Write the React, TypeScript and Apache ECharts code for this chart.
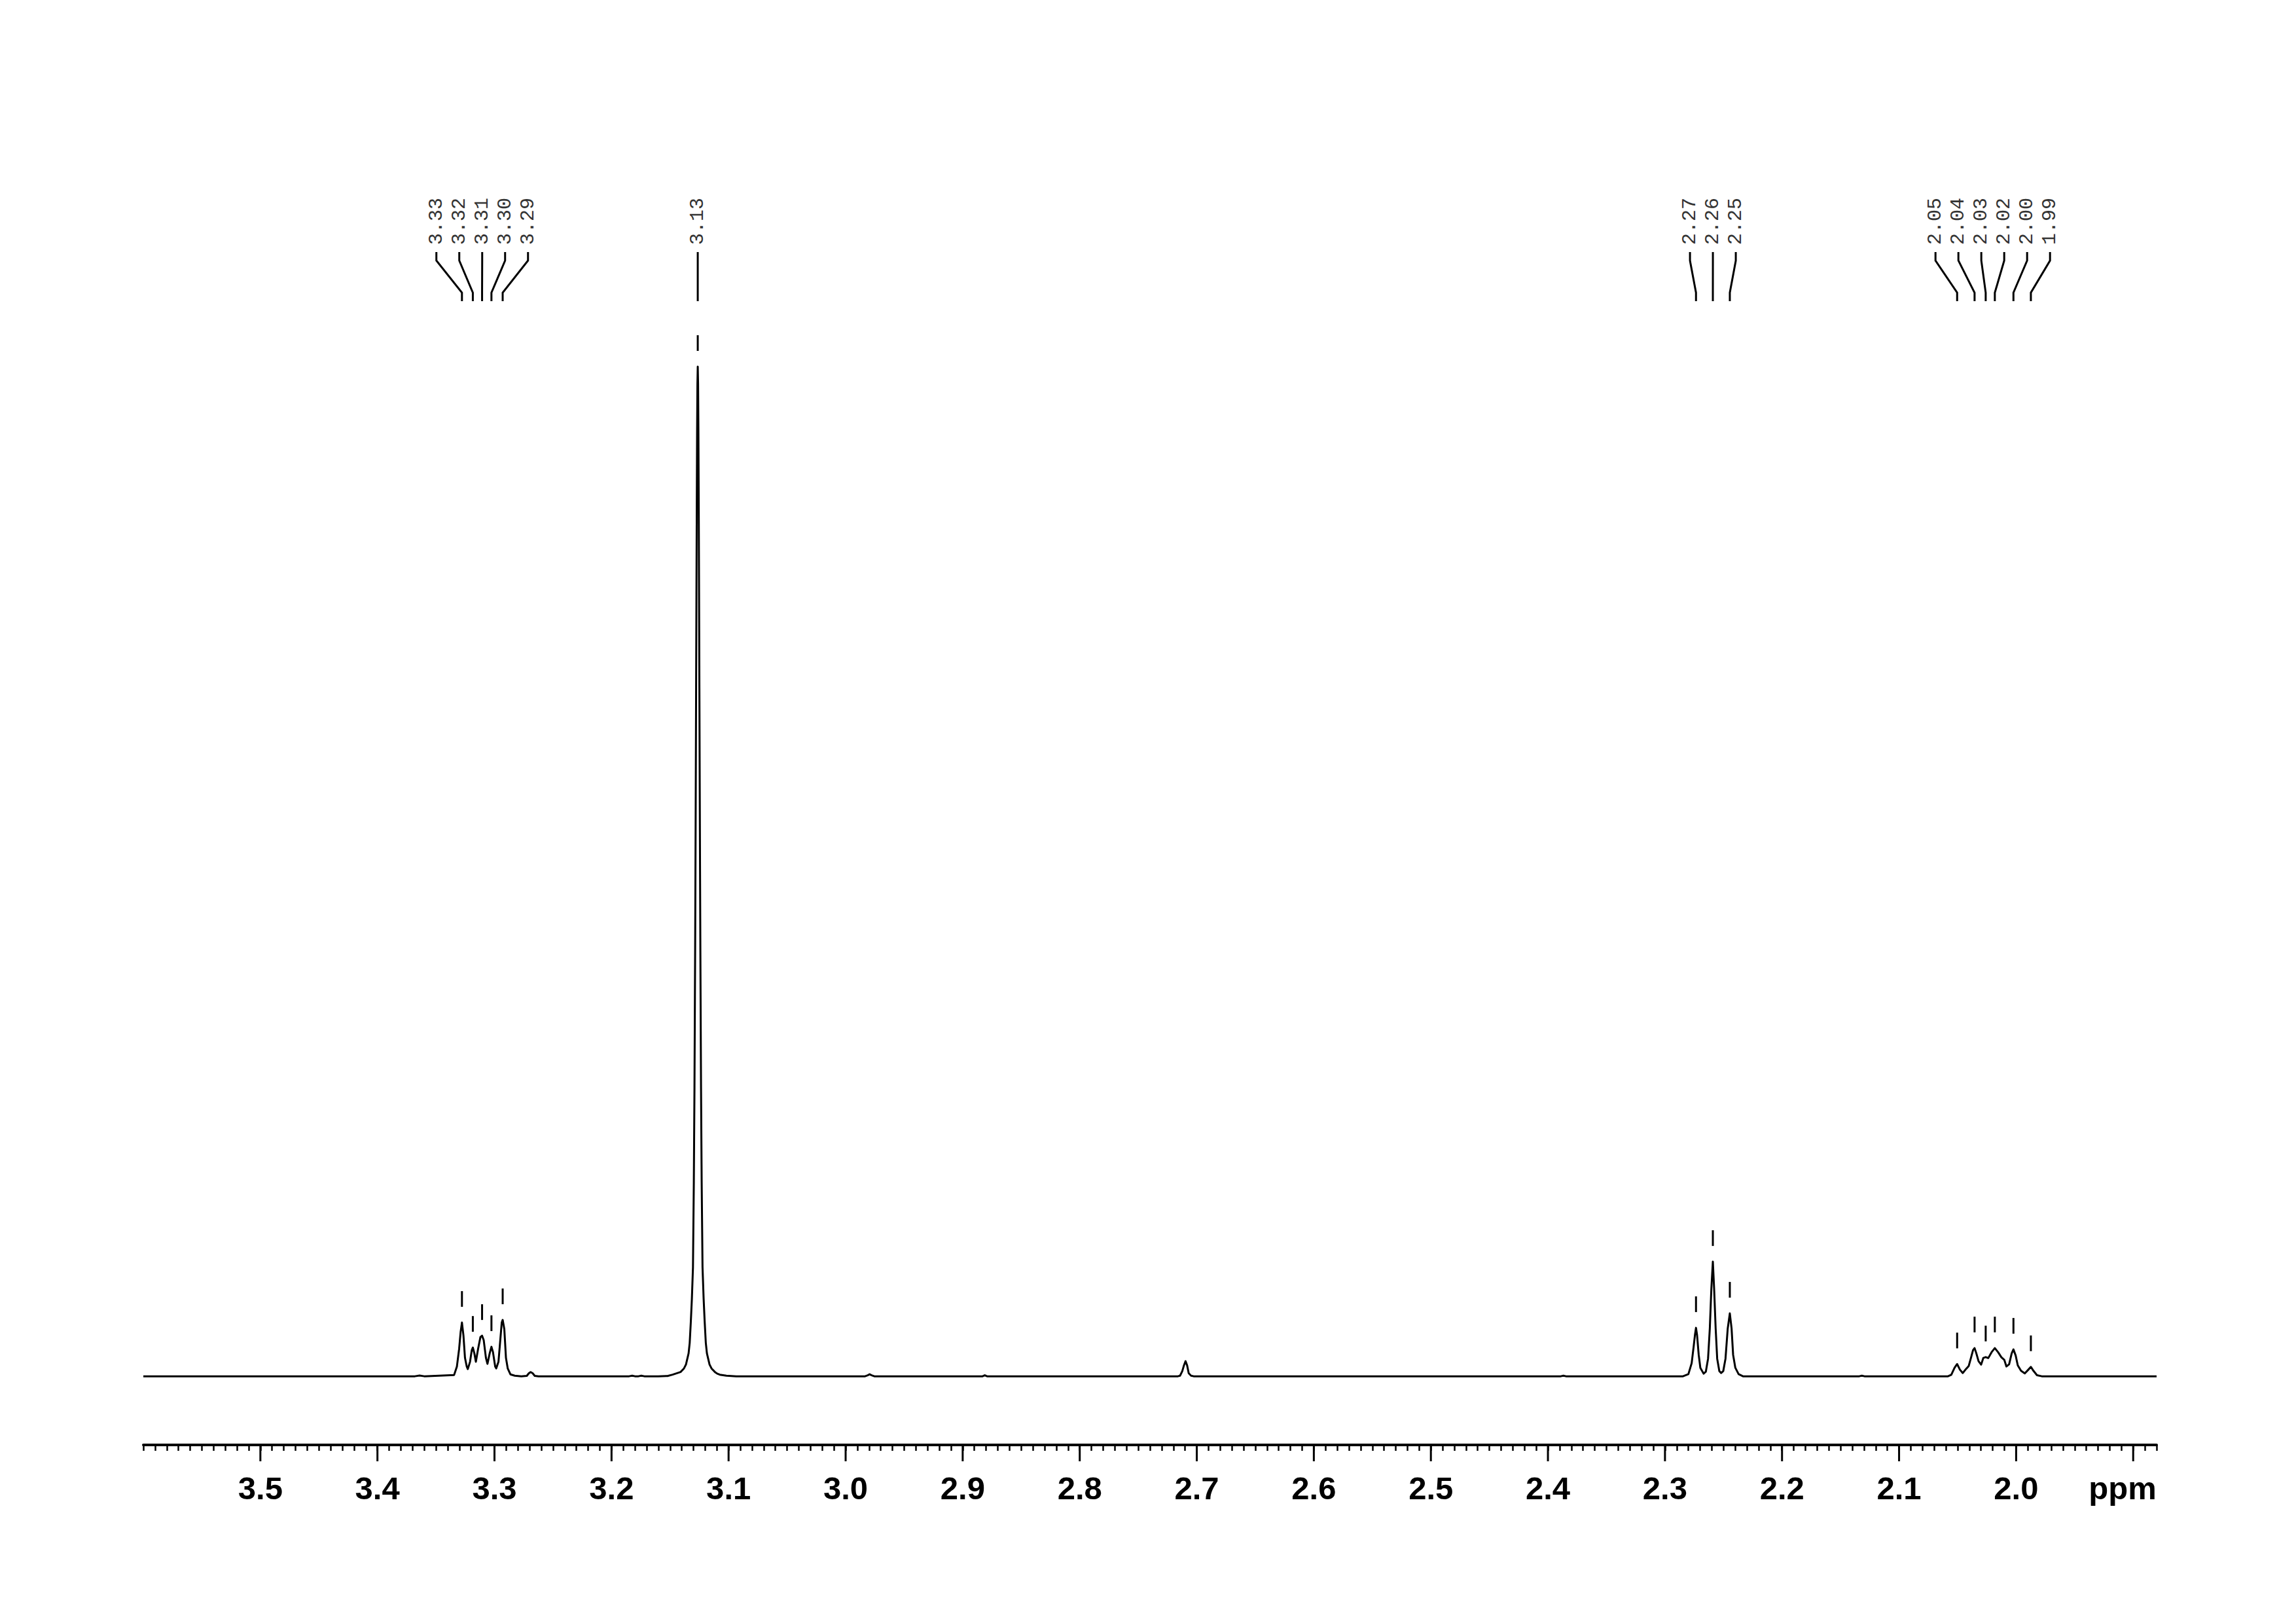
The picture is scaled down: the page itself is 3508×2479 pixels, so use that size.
import React, { useEffect, useRef } from 'react';
import * as echarts from 'echarts';

// ---- axis ----
const X_MIN = 1.88;
const X_MAX = 3.6;
const Y_MIN = -6.8;
const Y_MAX = 100;
const tickLabelValues = [3.5, 3.4, 3.3, 3.2, 3.1, 3.0, 2.9, 2.8, 2.7, 2.6, 2.5, 2.4, 2.3, 2.2, 2.1, 2.0];
const majorTickValues = [3.5, 3.4, 3.3, 3.2, 3.1, 3.0, 2.9, 2.8, 2.7, 2.6, 2.5, 2.4, 2.3, 2.2, 2.1, 2.0, 1.9];
const axisUnit = 'ppm';

// ---- spectrum trace (ppm, relative intensity %) ----
const baselineLeft: number[][] = [[3.6, 0], [3.368, 0], [3.364, 0.07], [3.36, 0]];
const multiplet333: number[][] = [
  [3.3345, 0.13], [3.3321, 0.97], [3.3302, 2.72], [3.3289, 4.41], [3.3278, 5.32], [3.3265, 4.02],
  [3.3252, 1.82], [3.3237, 0.97], [3.3228, 0.71], [3.3209, 1.43], [3.3194, 2.59], [3.3185, 2.85],
  [3.3172, 2.27], [3.3159, 1.43], [3.314, 2.72], [3.312, 3.89], [3.3106, 4.02], [3.3092, 3.57],
  [3.3073, 1.82], [3.306, 1.23], [3.3041, 2.27], [3.3026, 2.92], [3.3013, 2.4], [3.2994, 0.97],
  [3.2985, 0.78], [3.2966, 1.43], [3.2952, 3.37], [3.2938, 5.32], [3.293, 5.58], [3.2916, 4.67],
  [3.2902, 1.82], [3.2887, 0.78], [3.2864, 0.19], [3.2827, 0.06], [3.2771, 0],
];
const bump327: number[][] = [
  [3.2724, 0.04], [3.2706, 0.3], [3.2691, 0.42], [3.2674, 0.3], [3.2656, 0.04], [3.2624, 0],
  [3.185, 0], [3.1824, 0.06], [3.18, 0], [3.177, 0], [3.1746, 0.06], [3.172, 0],
];
const singlet313: number[][] = [
  [3.16, 0], [3.1522, 0.03], [3.1478, 0.16], [3.14104, 0.42], [3.13825, 0.75], [3.1364, 1.17],
  [3.13417, 2.27], [3.13322, 3.31], [3.13221, 5.51], [3.13137, 7.65], [3.13042, 10.8],
  [3.12969, 19.2], [3.12914, 28.6], [3.12858, 42.0], [3.1283, 50], [3.12802, 58.8],
  [3.12774, 68.2], [3.12746, 77.5], [3.12718, 86.2], [3.1269, 93.5], [3.12662, 98.3],
  [3.12634, 100],
  [3.12606, 98.3], [3.12578, 93.5], [3.1255, 86.2], [3.12522, 77.5], [3.12494, 68.2],
  [3.12466, 58.8], [3.12438, 50], [3.1241, 42.0], [3.12354, 28.6], [3.12299, 19.2],
  [3.12226, 10.8], [3.12131, 7.65], [3.12047, 5.51], [3.11946, 3.31], [3.11851, 2.27],
  [3.11628, 1.17], [3.11443, 0.75], [3.11164, 0.42], [3.1097, 0.26], [3.1075, 0.16],
  [3.1019, 0.06], [3.0935, 0],
];
const smallMiddle: number[][] = [
  [2.9834, 0], [2.9811, 0.1], [2.9795, 0.2], [2.9778, 0.1], [2.9755, 0],
  [2.883, 0], [2.8811, 0.1], [2.8792, 0],
  [2.7161, 0], [2.7143, 0.06], [2.7124, 0.5], [2.7109, 1.1], [2.7096, 1.49], [2.7083, 1.1],
  [2.7069, 0.3], [2.7049, 0.06], [2.7027, 0],
  [2.389, 0], [2.3868, 0.06], [2.3846, 0],
];
const triplet226: number[][] = [
  [2.2846, 0], [2.28, 0.21], [2.2772, 1.3], [2.2754, 3.05], [2.2744, 4.09], [2.2735, 4.8],
  [2.2726, 4.09], [2.2712, 2.14], [2.2698, 0.84], [2.267, 0.26], [2.2651, 0.45], [2.2632, 1.75],
  [2.2617, 4.73], [2.2604, 8.63], [2.2591, 11.35], [2.258, 8.63], [2.2567, 4.73], [2.2554, 1.75],
  [2.2536, 0.52], [2.252, 0.32], [2.2502, 0.52], [2.2483, 1.75], [2.2464, 4.73], [2.2446, 6.23],
  [2.2431, 4.73], [2.2418, 2.14], [2.2399, 0.84], [2.2371, 0.21], [2.2334, 0],
  [2.134, 0], [2.1318, 0.06], [2.1296, 0],
];
const multiplet202: number[][] = [
  [2.0582, 0], [2.0554, 0.15], [2.0526, 0.84], [2.0504, 1.21], [2.048, 0.65], [2.0456, 0.32],
  [2.0429, 0.71], [2.0405, 1.02], [2.0386, 1.82], [2.0368, 2.59], [2.0355, 2.79], [2.034, 2.27],
  [2.0321, 1.49], [2.0299, 1.15], [2.028, 1.82], [2.026, 1.9], [2.0238, 1.8], [2.021, 2.38],
  [2.0182, 2.79], [2.0154, 2.38], [2.0126, 1.88], [2.0101, 1.62], [2.0083, 0.97], [2.006, 1.19],
  [2.0038, 2.27], [2.0023, 2.66], [2.0004, 2.06], [1.9986, 1.08], [1.9958, 0.54], [1.9926, 0.28],
  [1.9896, 0.65], [1.9874, 0.93], [1.9852, 0.54], [1.9822, 0.11], [1.9781, 0], [1.88, 0],
];

// ---- picked peaks ----
const peakPpm = [3.3278, 3.3185, 3.3106, 3.3026, 3.293, 3.12634, 2.2735, 2.2591, 2.2446, 2.0504, 2.0355, 2.026, 2.0182, 2.0023, 1.9874];
const peakHeight = [5.32, 2.85, 4.02, 2.92, 5.58, 100, 4.8, 11.35, 6.23, 1.21, 2.79, 1.9, 2.79, 2.66, 0.93];
const peakLabels = ['3.33', '3.32', '3.31', '3.30', '3.29', '3.13', '2.27', '2.26', '2.25', '2.05', '2.04', '2.03', '2.02', '2.00', '1.99'];
const peakGroup = [0, 0, 0, 0, 0, 1, 2, 2, 2, 3, 3, 3, 3, 3, 3];

export default function App() {
  const ref = useRef<HTMLDivElement>(null);
  useEffect(() => {
    if (!ref.current) return;
    const chart = echarts.init(ref.current, null, { renderer: 'svg' });
    const spectrum = [
      ...baselineLeft, ...multiplet333, ...bump327, ...singlet313,
      ...smallMiddle, ...triplet226, ...multiplet202,
    ];
    const option: any = {
      animation: false,
      backgroundColor: '#ffffff',
      textStyle: { fontFamily: 'Liberation Sans' },
      grid: { left: 219, right: 213, top: 560, bottom: 272, containLabel: false },
      xAxis: {
        type: 'value',
        inverse: true,
        min: X_MIN,
        max: X_MAX,
        interval: 0.01,
        axisLine: { show: true, onZero: false, lineStyle: { color: '#000', width: 4 } },
        axisTick: { show: true, length: 9, lineStyle: { color: '#000', width: 2.5 } },
        splitLine: { show: false },
        axisLabel: {
          show: true,
          margin: 41,
          color: '#000',
          fontSize: 49,
          fontWeight: 'bold',
          fontFamily: 'Liberation Sans',
          formatter: (v: number) => {
            const m = tickLabelValues.find((t) => Math.abs(t - v) < 1e-6);
            return m !== undefined ? m.toFixed(1) : '';
          },
        },
      },
      yAxis: { type: 'value', min: Y_MIN, max: Y_MAX, show: false },
      graphic: [
        {
          type: 'text',
          x: 3243,
          y: 2273,
          style: {
            text: axisUnit,
            font: 'bold 49px "Liberation Sans"',
            fill: '#000',
            align: 'center',
            verticalAlign: 'middle',
          },
        },
      ],
      series: [
        {
          type: 'line',
          data: spectrum,
          showSymbol: false,
          symbol: 'none',
          silent: true,
          clip: false,
          lineStyle: { color: '#000', width: 3, join: 'round' },
          z: 3,
        },
        {
          type: 'custom',
          silent: true,
          clip: false,
          data: majorTickValues.map((v) => [v, Y_MIN]),
          renderItem: (params: any, api: any) => {
            const p = api.coord([api.value(0), api.value(1)]);
            return {
              type: 'line',
              shape: { x1: p[0], y1: p[1], x2: p[0], y2: p[1] + 25 },
              style: { stroke: '#000', lineWidth: 3 },
            };
          },
          z: 4,
        },
        {
          type: 'custom',
          silent: true,
          clip: false,
          data: peakPpm.map((p, i) => [p, peakHeight[i], i]),
          renderItem: (params: any, api: any) => {
            const i = params.dataIndex;
            const g = peakGroup[i];
            const members: number[] = [];
            peakGroup.forEach((gg, j) => { if (gg === g) members.push(j); });
            const xs = members.map((j) => api.coord([peakPpm[j], peakHeight[j]])[0]);
            const mean = xs.reduce((a, b) => a + b, 0) / xs.length;
            const k = members.indexOf(i);
            const n = members.length;
            const lx = mean + (k - (n - 1) / 2) * 35;
            const p = api.coord([peakPpm[i], peakHeight[i]]);
            return {
              type: 'group',
              children: [
                { type: 'rect', shape: { x: p[0] - 1.5, y: p[1] - 48, width: 3, height: 24 }, style: { fill: '#000' } },
                {
                  type: 'polyline',
                  shape: { points: [[lx, 385], [lx, 398], [p[0], 447], [p[0], 460]] },
                  style: { stroke: '#000', lineWidth: 3, fill: 'none' },
                },
                {
                  type: 'text',
                  x: lx,
                  y: 374,
                  rotation: Math.PI / 2,
                  style: {
                    text: peakLabels[i],
                    fontFamily: 'Liberation Mono',
                    fontSize: 30,
                    fill: '#333',
                    align: 'left',
                    verticalAlign: 'middle',
                  },
                },
              ],
            };
          },
          z: 5,
        },
      ],
    };
    chart.setOption(option);
    return () => chart.dispose();
  }, []);
  return (
    <div
      ref={ref}
      style={{ position: 'absolute', left: 0, top: 0, width: 3508, height: 2479, background: '#fff' }}
    />
  );
}
